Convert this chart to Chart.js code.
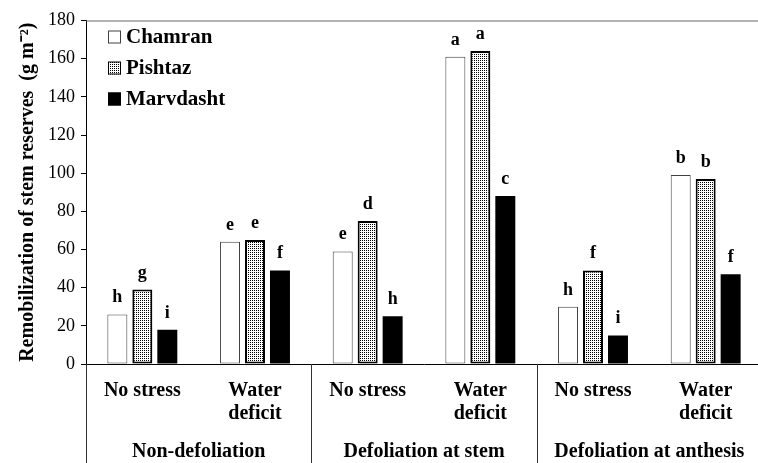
<!DOCTYPE html>
<html>
<head>
<meta charset="utf-8">
<script src="https://cdn.jsdelivr.net/npm/chart.js@4.4.0/dist/chart.umd.min.js"></script>
<style>
  html, body { margin: 0; padding: 0; background: #fff; overflow: hidden; }
</style>
</head>
<body>
<canvas id="chart-stem" width="770" height="463"></canvas>
<script>
var categories = [["No stress"], ["Water", "deficit"], ["No stress"], ["Water", "deficit"], ["No stress"], ["Water", "deficit"]];
var groups = ["Non-defoliation", "Defoliation at stem", "Defoliation at anthesis"];
var yTicks = [0, 20, 40, 60, 80, 100, 120, 140, 160, 180];

var chamran = [26, 64, 59, 161, 30, 99];
var pishtaz = [39, 65, 75, 164, 49, 97];
var marvdasht = [18, 49, 25, 88, 15, 47];

var chamranLetters = ["h", "e", "e", "a", "h", "b"];
var pishtazLetters = ["g", "e", "d", "a", "f", "b"];
var marvdashtLetters = ["i", "f", "h", "c", "i", "f"];

var serif = "'Liberation Serif', 'Times New Roman', serif";

var ctx = document.getElementById("chart-stem").getContext("2d");

// dotted fill for Pishtaz
var tile = document.createElement("canvas");
tile.width = 2;
tile.height = 2;
var tctx = tile.getContext("2d");
tctx.fillStyle = "#fff";
tctx.fillRect(0, 0, 2, 2);
tctx.fillStyle = "#000";
tctx.fillRect(0, 0, 1, 1);
var dots = ctx.createPattern(tile, "repeat");

// letters above bars
var lettersPlugin = {
  id: "letters",
  afterDatasetsDraw: function (chart) {
    var c = chart.ctx;
    c.save();
    c.font = "bold 18px " + serif;
    c.fillStyle = "#000";
    c.textAlign = "center";
    c.textBaseline = "alphabetic";
    chart.data.datasets.forEach(function (ds, i) {
      chart.getDatasetMeta(i).data.forEach(function (bar, j) {
        c.fillText(ds.letters[j], bar.x, bar.y - 12);
      });
    });
    c.restore();
  },
};

// legend inside the plot, top border, category separators
var framePlugin = {
  id: "frame",
  afterDraw: function (chart) {
    var c = chart.ctx;
    var area = chart.chartArea;
    var x = chart.scales.x;
    c.save();
    c.lineWidth = 1;
    c.strokeStyle = "#666";
    c.beginPath();
    c.moveTo(area.left, area.top + 0.5);
    c.lineTo(area.right, area.top + 0.5);
    c.stroke();

    c.strokeStyle = "#333";
    var seps = [area.left, (x.getPixelForValue(1) + x.getPixelForValue(2)) / 2, (x.getPixelForValue(3) + x.getPixelForValue(4)) / 2];
    seps.forEach(function (sx) {
      var px = Math.round(sx) + 0.5;
      c.beginPath();
      c.moveTo(px, area.bottom);
      c.lineTo(px, chart.height);
      c.stroke();
    });

    c.font = "bold 21px " + serif;
    c.textBaseline = "middle";
    c.textAlign = "left";
    chart.data.datasets.forEach(function (ds, i) {
      var rowY = area.top + 16.5 + i * 31;
      var bx = 108;
      c.fillStyle = ds.backgroundColor;
      c.fillRect(bx, rowY - 6.5, 13, 13);
      c.strokeStyle = ds.borderColor;
      c.lineWidth = 1;
      c.strokeRect(bx + 0.5, rowY - 6, 12, 12);
      c.fillStyle = "#000";
      c.fillText(ds.label, 126, rowY + 1);
    });
    c.restore();
  },
};

new Chart(ctx, {
  type: "bar",
  data: {
    labels: categories,
    datasets: [
      {
        label: "Chamran",
        data: chamran,
        letters: chamranLetters,
        backgroundColor: "#fff",
        borderColor: "#404040",
        borderWidth: 1,
        borderSkipped: false,
      },
      {
        label: "Pishtaz",
        data: pishtaz,
        letters: pishtazLetters,
        backgroundColor: dots,
        borderColor: "#000",
        borderWidth: 2,
        borderSkipped: false,
      },
      {
        label: "Marvdasht",
        data: marvdasht,
        letters: marvdashtLetters,
        backgroundColor: "#000",
        borderColor: "#000",
        borderWidth: 0,
      },
    ],
  },
  options: {
    responsive: false,
    animation: false,
    categoryPercentage: 0.665,
    barPercentage: 0.8,
    layout: {
      padding: { left: 0, top: 20.5, right: 8, bottom: 0 },
    },
    plugins: {
      legend: { display: false },
      tooltip: { enabled: false },
    },
    scales: {
      x: {
        weight: 0,
        afterFit: function (scale) {
          scale.height = 62;
        },
        grid: {
          display: true,
          drawOnChartArea: false,
          drawTicks: false,
        },
        border: { display: true, color: "#000", width: 1 },
        ticks: {
          color: "#000",
          padding: 15,
          maxRotation: 0,
          autoSkip: false,
          font: { family: serif, size: 20, weight: "bold", lineHeight: 1.17 },
        },
      },
      x2: {
        type: "category",
        position: "bottom",
        weight: 1,
        labels: groups,
        offset: true,
        afterFit: function (scale) {
          scale.height = 37;
        },
        grid: { display: false, drawTicks: false },
        border: { display: false },
        ticks: {
          color: "#000",
          padding: 14,
          maxRotation: 0,
          autoSkip: false,
          font: { family: serif, size: 20, weight: "bold", lineHeight: 1.17 },
        },
      },
      y: {
        min: 0,
        max: 180,
        afterBuildTicks: function (scale) {
          scale.ticks = yTicks.map(function (v) { return { value: v }; });
        },
        afterFit: function (scale) {
          scale.width = 86;
        },
        grid: {
          display: true,
          drawOnChartArea: false,
          drawTicks: true,
          tickLength: 5,
          color: "#000",
        },
        border: { display: true, color: "#000", width: 1 },
        ticks: {
          color: "#000",
          padding: 6,
          font: { family: serif, size: 18 },
        },
        title: {
          display: true,
          text: "Remobilization of stem reserves  (g m\u207B\u00B2)",
          color: "#000",
          padding: { top: 16, bottom: 0 },
          font: { family: serif, size: 20, weight: "bold", lineHeight: 1.2 },
        },
      },
    },
  },
  plugins: [lettersPlugin, framePlugin],
});
</script>
</body>
</html>
